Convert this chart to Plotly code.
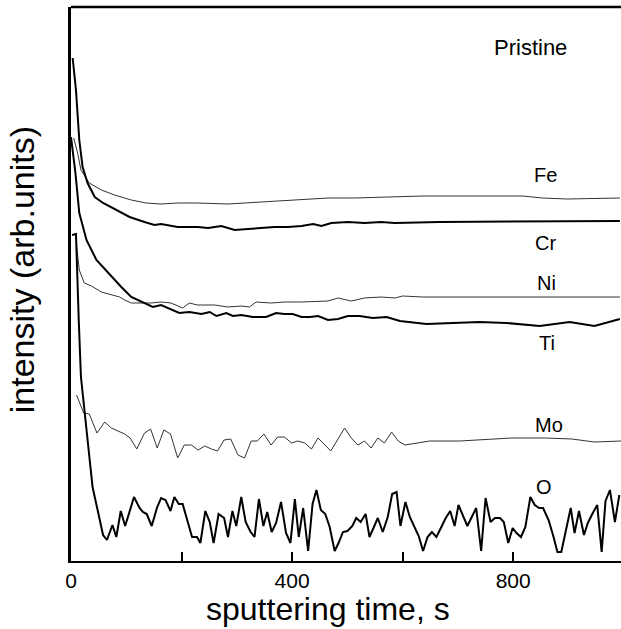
import plotly.graph_objects as go

# sputtering time (s) and intensity (arb. units)
o_t = [2, 9, 14, 18, 39, 58, 65, 75, 82, 90, 98, 114, 124, 130, 137, 146, 156, 163, 171, 180,
       187, 195, 202, 219, 228, 234, 243, 251, 258, 267, 277, 284, 292, 299, 308, 316, 325, 332,
       340, 348, 355, 363, 371, 380, 389, 397, 405, 412, 420, 429, 437, 444, 452, 460, 468, 477,
       484, 492, 500, 509, 516, 524, 533, 540, 548, 555, 564, 573, 581, 589, 596, 605, 613, 620,
       629, 637, 645, 653, 661, 670, 678, 686, 694, 701, 709, 717, 725, 733, 742, 750, 759, 767,
       776, 783, 791, 799, 806, 814, 822, 831, 839, 847, 854, 864, 872, 880, 887, 895, 904, 911,
       919, 928, 935, 943, 952, 960, 967, 975, 984, 992]
o_i = [326, 327, 241, 184, 74, 26, 21, 36, 24, 50, 35, 64, 53, 49, 47, 35, 54, 63, 61, 50,
       64, 57, 57, 24, 24, 18, 50, 39, 18, 47, 43, 24, 50, 35, 64, 39, 29, 24,
       62, 35, 49, 29, 38, 59, 28, 18, 62, 24, 53, 10, 57, 71, 51, 47, 34, 10,
       18, 29, 30, 35, 43, 39, 47, 24, 34, 43, 29, 44, 67, 69, 35, 59, 44, 35,
       25, 10, 24, 29, 24, 34, 43, 50, 35, 56, 46, 35, 44, 53, 10, 63, 39, 43,
       43, 39, 18, 33, 28, 24, 34, 64, 56, 53, 53, 41, 26, 9, 9, 31, 53, 28,
       50, 26, 38, 47, 56, 9, 60, 71, 39, 66]

mo_t = [10, 23, 33, 47, 61, 73, 85, 97, 107, 119, 133, 144, 156, 168, 180, 193, 205, 218, 230,
        242, 254, 265, 277, 289, 302, 314, 326, 337, 349, 362, 374, 386, 399, 410, 423, 435, 447,
        459, 470, 483, 495, 507, 519, 531, 543, 555, 567, 580, 592, 604, 625, 649, 703, 754, 797,
        857, 906, 947, 995]
mo_i = [166, 148, 147, 128, 139, 133, 130, 127, 123, 112, 128, 132, 113, 131, 127, 103, 116, 116, 111,
        115, 112, 110, 121, 122, 106, 103, 120, 120, 127, 116, 124, 124, 118, 120, 118, 112, 123,
        116, 110, 122, 133, 123, 116, 120, 113, 123, 118, 129, 120, 116, 118, 120, 120, 122, 123,
        123, 122, 119, 120]

ti_t = [0, 8, 15, 28, 46, 67, 91, 109, 133, 148, 163, 175, 196, 214, 236, 251, 263, 281, 293, 308,
        329, 353, 371, 386, 401, 417, 432, 447, 465, 483, 501, 522, 546, 571, 595, 643, 739, 788,
        848, 902, 947, 993]
ti_i = [424, 388, 348, 321, 301, 288, 274, 264, 258, 254, 256, 253, 248, 249, 247, 249, 245, 248, 245, 246,
        244, 244, 248, 247, 247, 244, 244, 245, 241, 242, 245, 245, 243, 244, 240, 237, 239, 238,
        235, 239, 235, 242]

ni_t = [10, 15, 24, 37, 55, 73, 88, 97, 109, 127, 145, 163, 181, 202, 214, 229, 260, 284, 308, 323,
        335, 362, 386, 417, 447, 465, 483, 507, 531, 561, 586, 600, 636, 811, 993]
ni_i = [316, 291, 278, 275, 269, 266, 264, 261, 258, 258, 258, 259, 258, 253, 258, 256, 256, 254, 255, 254,
        259, 258, 259, 259, 260, 260, 263, 260, 263, 264, 263, 265, 264, 264, 264]

cr_t = [3, 9, 15, 21, 30, 43, 58, 82, 106, 133, 151, 163, 193, 229, 248, 272, 296, 320, 344, 368,
        392, 417, 438, 453, 471, 501, 531, 561, 586, 667, 993]
cr_i = [503, 471, 421, 394, 378, 364, 358, 351, 344, 339, 336, 337, 334, 334, 333, 335, 331, 332, 333, 334,
        334, 335, 337, 335, 338, 339, 338, 339, 338, 339, 340]

fe_t = [5, 12, 18, 33, 55, 79, 109, 136, 163, 193, 229, 284, 344, 405, 465, 513, 561, 636, 757, 817,
        853, 897, 993]
fe_i = [423, 408, 391, 378, 371, 366, 361, 358, 357, 358, 358, 357, 359, 361, 363, 363, 364, 365, 365, 365,
        363, 362, 363]

x_ticks = [0, 200, 400, 600, 800]
x_tick_text = ["0", "", "400", "", "800"]

labels = ["Pristine", "Fe", "Cr", "Ni", "Ti", "Mo", "O"]
label_pos = [(832, 514), (859, 386), (859, 318), (861, 278), (862, 218), (864, 136), (855, 74)]

FONT = "Liberation Sans, Arial, sans-serif"

fig = go.Figure()
series = [
    (fe_t, fe_i, 1.0, "#333"),
    (cr_t, cr_i, 2.0, "black"),
    (ni_t, ni_i, 1.0, "#333"),
    (ti_t, ti_i, 2.0, "black"),
    (mo_t, mo_i, 1.0, "#333"),
    (o_t, o_i, 2.0, "black"),
]
for t, i, w, c in series:
    fig.add_trace(go.Scatter(x=t, y=i, mode="lines",
                             line=dict(color=c, width=w), showlegend=False))

for txt, (xx, yy) in zip(labels, label_pos):
    fig.add_annotation(x=xx, y=yy, text=txt, showarrow=False,
                       font=dict(family=FONT, size=22 if txt == "Pristine" else 20, color="black"))

# axis titles (placed as in the original, whose frame is cropped on the right)
fig.add_annotation(xref="paper", yref="paper", x=0.467, y=-0.087, yanchor="middle",
                   text="sputtering time, s", showarrow=False,
                   font=dict(family=FONT, size=32, color="black"))
fig.add_annotation(xref="paper", yref="paper", x=-0.089, y=0.525, xanchor="center",
                   text="intensity (arb.units)", showarrow=False, textangle=-90,
                   font=dict(family=FONT, size=34, color="black"))

fig.add_shape(type="line", xref="paper", yref="paper", x0=0, x1=1, y0=1, y1=1,
              line=dict(color="black", width=2.5))

fig.update_layout(
    width=621, height=629,
    margin=dict(l=71, r=0, t=7, b=68),
    paper_bgcolor="white", plot_bgcolor="white",
    font=dict(family=FONT, color="black"),
    xaxis=dict(range=[0, 995], tickvals=x_ticks, ticktext=x_tick_text,
               ticks="inside", ticklen=9, tickwidth=2, tickcolor="black",
               showline=True, linewidth=2, linecolor="black",
               showgrid=False, zeroline=False, ticklabelstandoff=0,
               tickfont=dict(size=21, family=FONT, color="black")),
    yaxis=dict(range=[0, 554], showticklabels=False, ticks="",
               showline=True, linewidth=3, linecolor="black",
               showgrid=False, zeroline=False),
)

fig.write_html("out.html")
